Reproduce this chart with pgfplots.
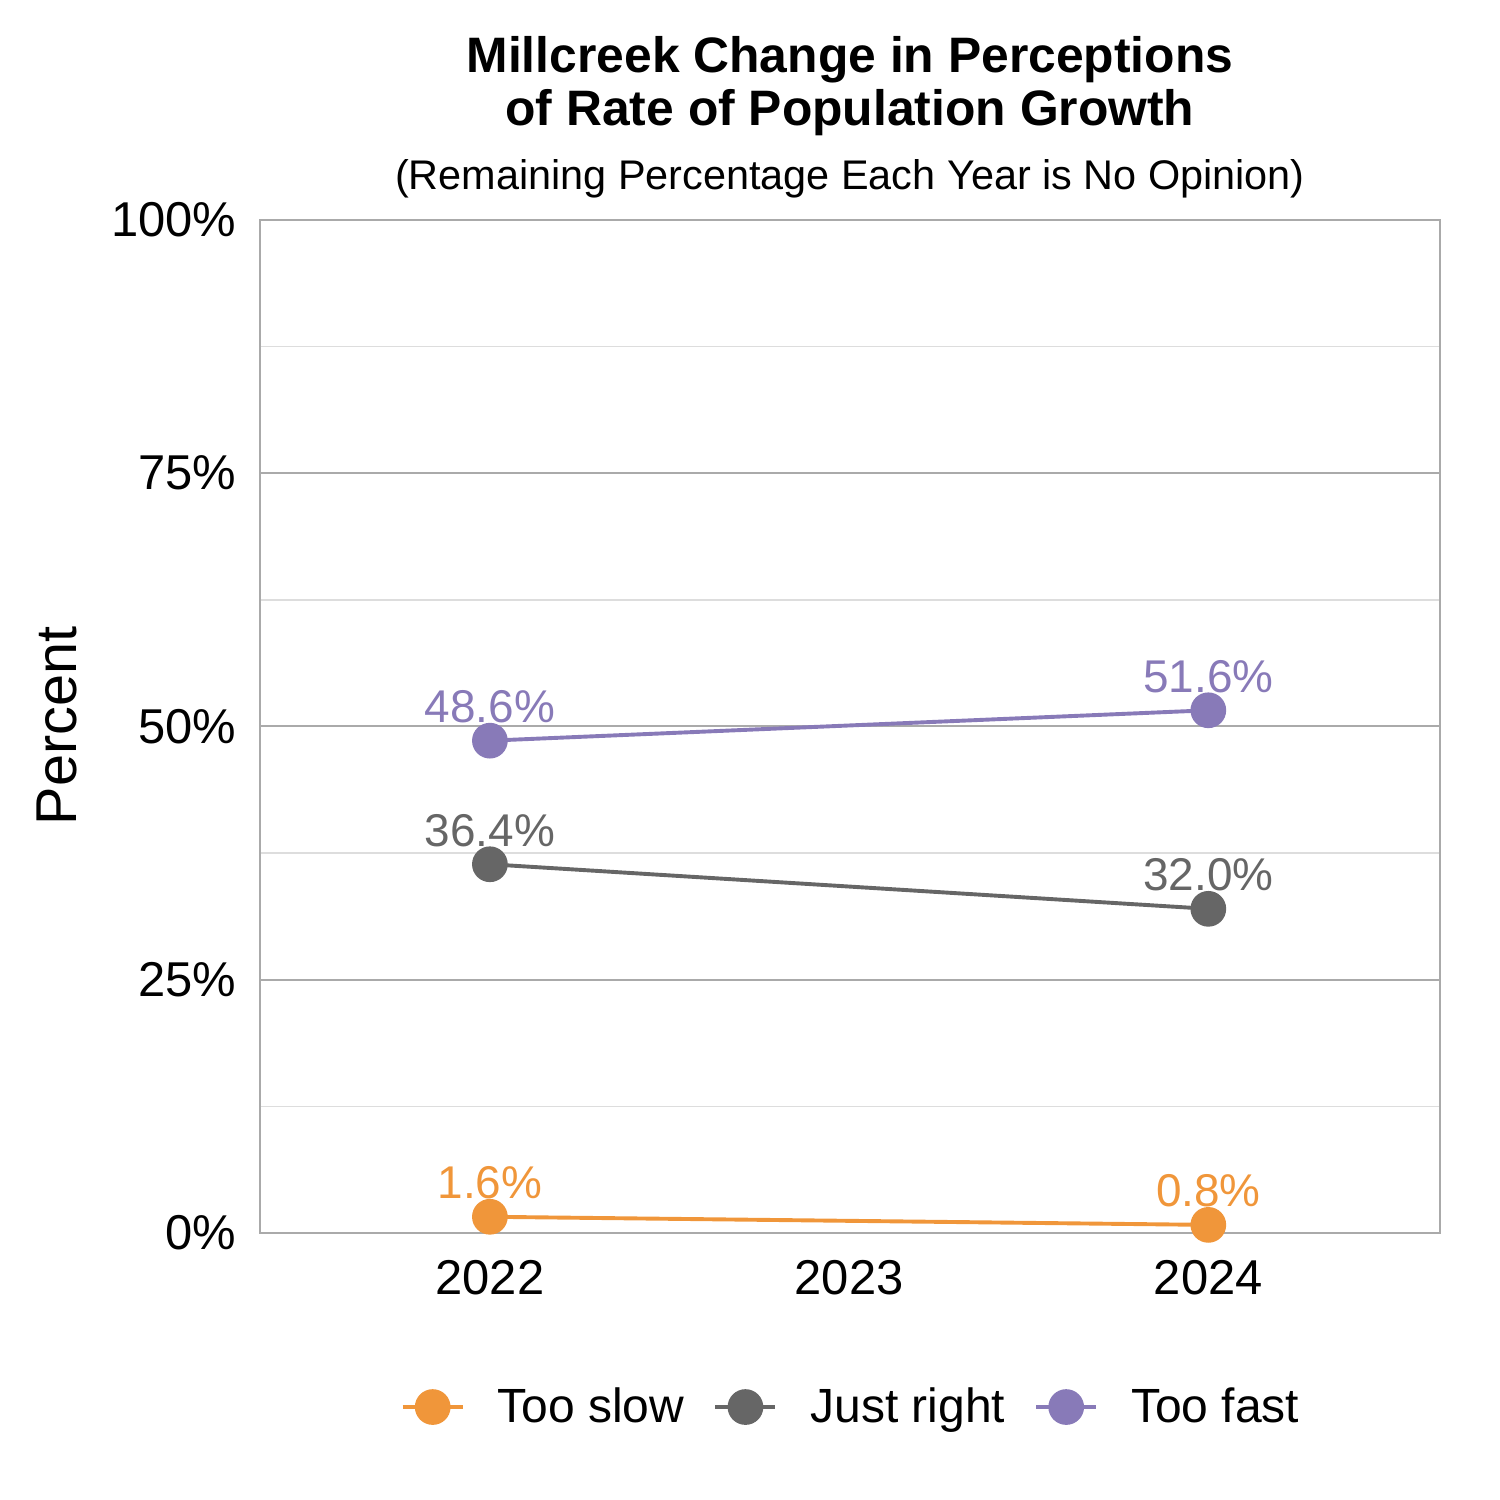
\documentclass[border=0pt]{standalone}
\usepackage{fontspec}
\setmainfont{Liberation Sans}
\usepackage{pgfplots}
\pgfplotsset{compat=1.18}

\definecolor{slowc}{HTML}{F0963A}
\definecolor{rightc}{HTML}{666666}
\definecolor{fastc}{HTML}{887AB8}
\definecolor{framec}{HTML}{AAAAAA}
\definecolor{minorc}{HTML}{DDDDDD}

\begin{document}
\begin{tikzpicture}
\path[use as bounding box] (0,0) rectangle (500pt,500pt);

\begin{axis}[
    at={(86.667pt,89pt)}, anchor=south west,
    scale only axis,
    width=393.333pt, height=337.667pt,
    xmin=2021.36, xmax=2024.645,
    ymin=0, ymax=100,
    clip=false,
    /pgf/number format/assume math mode=true,
    axis line style={framec, line width=0.67pt},
    xtick={2022,2023,2024},
    xticklabels={2022,2023,2024},
    ytick={0,25,50,75,100},
    minor ytick={12.5,37.5,62.5,87.5},
    yticklabel={\pgfmathprintnumber{\tick}\%},
    major tick length=0pt, minor tick length=0pt,
    ymajorgrids, yminorgrids,
    major grid style={framec, line width=0.67pt},
    minor grid style={minorc, line width=0.5pt},
    tick label style={font=\fontsize{16.3}{19}\selectfont, black},
    yticklabel style={inner sep=0pt, anchor=east, xshift=-7.7pt},
    xticklabel style={inner sep=0pt, anchor=north, yshift=-9pt},
    every axis plot/.append style={line width=1.3pt, mark=*, mark size=5.3pt,
        mark options={solid}},
    nodes near coords={\pgfmathprintnumber[fixed,fixed zerofill,precision=1]{\pgfplotspointmeta}\%},
    every node near coord/.append style={font=\fontsize{15.3}{18}\selectfont,
        anchor=center, inner sep=0pt, yshift=11.3pt},
    legend columns=3,
    legend style={at={(0.5,-0.1718)}, anchor=center, draw=none, fill=none,
        font=\fontsize{16}{19}\selectfont,
        nodes={inner sep=0pt},
        /tikz/every odd column/.append style={column sep=11pt},
        /tikz/every even column/.append style={column sep=9.7pt}},
    legend image code/.code={
        \draw[#1, mark repeat=2, mark phase=2] plot coordinates {(0pt,0pt) (10pt,0pt) (20pt,0pt)};
    },
]
\addplot[slowc, every node near coord/.append style={text=slowc}]
    coordinates {(2022,1.6) (2024,0.8)};
\addlegendentry{Too slow}
\addplot[rightc, every node near coord/.append style={text=rightc}]
    coordinates {(2022,36.4) (2024,32.0)};
\addlegendentry{Just right}
\addplot[fastc, every node near coord/.append style={text=fastc}]
    coordinates {(2022,48.6) (2024,51.6)};
\addlegendentry{Too fast}
\end{axis}

\node[anchor=base, font=\fontsize{16.6}{20}\selectfont\bfseries] at (283.3pt,475.67pt) {Millcreek Change in Perceptions};
\node[anchor=base, font=\fontsize{16.6}{20}\selectfont\bfseries] at (283.3pt,458pt) {of Rate of Population Growth};
\node[anchor=base, font=\fontsize{13.8}{16}\selectfont] at (283.3pt,436.67pt) {(Remaining Percentage Each Year is No Opinion)};
\node[rotate=90, font=\fontsize{19.2}{22}\selectfont] at (19pt,258pt) {Percent};
\end{tikzpicture}
\end{document}
